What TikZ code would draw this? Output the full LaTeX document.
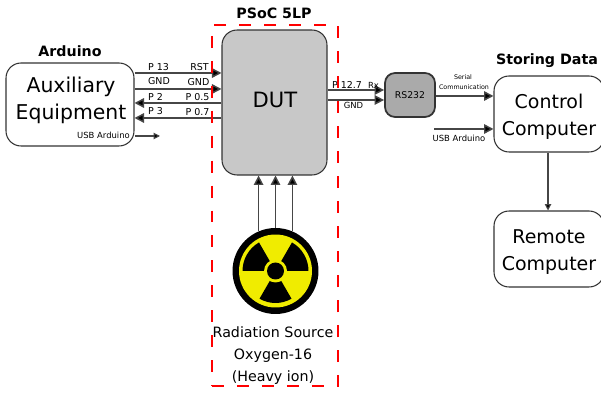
\documentclass[tikz,border=0pt]{standalone}
\usepackage{fontspec}
\setmainfont{DejaVu Sans}
\usetikzlibrary{arrows.meta}
\definecolor{dutgray}{RGB}{200,200,200}
\definecolor{rsgray}{RGB}{170,170,170}
\definecolor{wiregray}{RGB}{70,70,70}
\definecolor{radyellow}{RGB}{240,236,0}
\tikzset{
    block/.style={draw=black!80,rounded corners=0.3cm,line width=0.6pt,align=center,inner sep=0pt},
    bigtext/.style={font=\fontsize{11.6}{15.2}\selectfont,align=center,inner sep=0pt},
    pctext/.style={font=\fontsize{10.8}{15.4}\selectfont,align=center,inner sep=0pt},
    tiny label/.style={font=\fontsize{5.4}{6}\selectfont,inner sep=0pt},
    usb label/.style={font=\fontsize{4.8}{6}\selectfont,inner sep=0pt},
    serial label/.style={font=\fontsize{3.6}{5}\selectfont,inner sep=0pt},
    head label/.style={font=\fontsize{8.1}{9}\selectfont\bfseries,inner sep=0pt},
    wire/.style={draw=wiregray,line width=0.85pt,-{Triangle[length=5.4pt,width=5.4pt,fill=black]}},
    thin wire/.style={draw=wiregray,line width=0.6pt,-{Triangle[length=3.6pt,width=3.6pt,fill=black]}},
}
\begin{document}
\begin{tikzpicture}[x=0.02cm,y=-0.02cm]
\useasboundingbox (0,0) rectangle (601,394);

\node[block,minimum width=2.56cm,minimum height=1.66cm] (aux) at (70,104.5) {};
\node[bigtext] (auxname) at (71,100.5) {Auxiliary\\Equipment};
\node[block,fill=dutgray,minimum width=2.1cm,minimum height=2.9cm] (dut) at (274.5,102.5) {};
\node[font=\fontsize{12}{16}\selectfont,inner sep=0pt] (dutname) at (275,100) {DUT};
\node[block,fill=rsgray,line width=1pt,rounded corners=0.2cm,minimum width=1cm,minimum height=0.88cm,font=\fontsize{5.3}{7}\selectfont] (rs) at (410,95) {RS232};
\node[block,minimum width=2.2cm,minimum height=1.52cm] (ctrl) at (549,114) {};
\node[pctext] (ctrlname) at (549,117) {Control\\Computer};
\node[block,minimum width=2.2cm,minimum height=1.52cm] (remote) at (549,249) {};
\node[pctext] (remotename) at (549,252) {Remote\\Computer};

\node[circle,fill=black,minimum size=1.72cm,inner sep=0pt] (rad) at (275.5,271) {};
\fill[radyellow] (rad.center) circle (0.73cm);
\fill[black] (rad.center) -- ++(60:0.66cm) arc (60:0:0.66cm) -- cycle;
\fill[black] (rad.center) -- ++(120:0.66cm) arc (120:180:0.66cm) -- cycle;
\fill[black] (rad.center) -- ++(240:0.64cm) arc (240:300:0.64cm) -- cycle;
\fill[radyellow] (rad.center) circle (0.23cm);
\fill[black] (rad.center) circle (0.17cm);

\draw[wire] (aux.east |- 0,73) -- (dut.west |- 0,73);
\draw[wire] (aux.east |- 0,89) -- (dut.west |- 0,89);
\draw[wire] (dut.west |- 0,103) -- (aux.east |- 0,103);
\draw[wire] (dut.west |- 0,118) -- (aux.east |- 0,118);
\draw[thin wire] (aux.east |- 0,136) -- (160,136);
\draw[wire] (dut.east |- 0,90) -- (rs.west |- 0,90);
\draw[wire] (dut.east |- 0,100) -- (rs.west |- 0,100);
\draw[wire] (rs.east |- 0,96) -- (ctrl.west |- 0,96);
\draw[wire] (434,129) -- (ctrl.west |- 0,129);
\draw[thin wire] (ctrl.south -| 548,0) -- (remote.north -| 548,0);
\draw[wire] (rad.113) -- (dut.south -| rad.113);
\draw[wire] (rad.north) -- (dut.south -| rad.north);
\draw[wire] (rad.67) -- (dut.south -| rad.67);

\node[tiny label] (p13) at (158.5,67) {P 13};
\node[tiny label] (rst) at (199.5,67) {RST};
\node[tiny label] (gnda) at (159,81) {GND};
\node[tiny label] (gndb) at (198.5,82) {GND};
\node[tiny label] (p2) at (155.5,96.5) {P 2};
\node[tiny label] (p05) at (197.5,97.5) {P 0.5};
\node[tiny label] (p3) at (155.5,111) {P 3};
\node[tiny label] (p07) at (197.5,112) {P 0.7};
\node[usb label] (usba) at (103.5,135.5) {USB Arduino};
\node[tiny label] (p127) at (347,85) {P 12.7};
\node[usb label] (rx) at (373.5,85) {Rx};
\node[usb label] (gndc) at (353.5,105) {GND};
\node[serial label] (serial) at (463,77) {Serial};
\node[serial label] (comm) at (464,87) {Communication};
\node[usb label] (usbb) at (459,138) {USB Arduino};

\node[head label] (arduino) at (70,51) {Arduino};
\node[head label] (psoc) at (274,13) {PSoC 5LP};
\node[head label] (storing) at (547,61) {Storing Data};

\node[font=\fontsize{8.1}{12.4}\selectfont,align=center,inner sep=0pt] (radname) at (273,355.5) {Radiation Source\\Oxygen-16\\(Heavy ion)};

\node[draw=red,dash pattern=on 6.8pt off 7.4pt,line width=1.1pt,minimum width=2.52cm,minimum height=7.22cm,inner sep=0pt] (psocbox) at (275,205.5) {};
\end{tikzpicture}
\end{document}
